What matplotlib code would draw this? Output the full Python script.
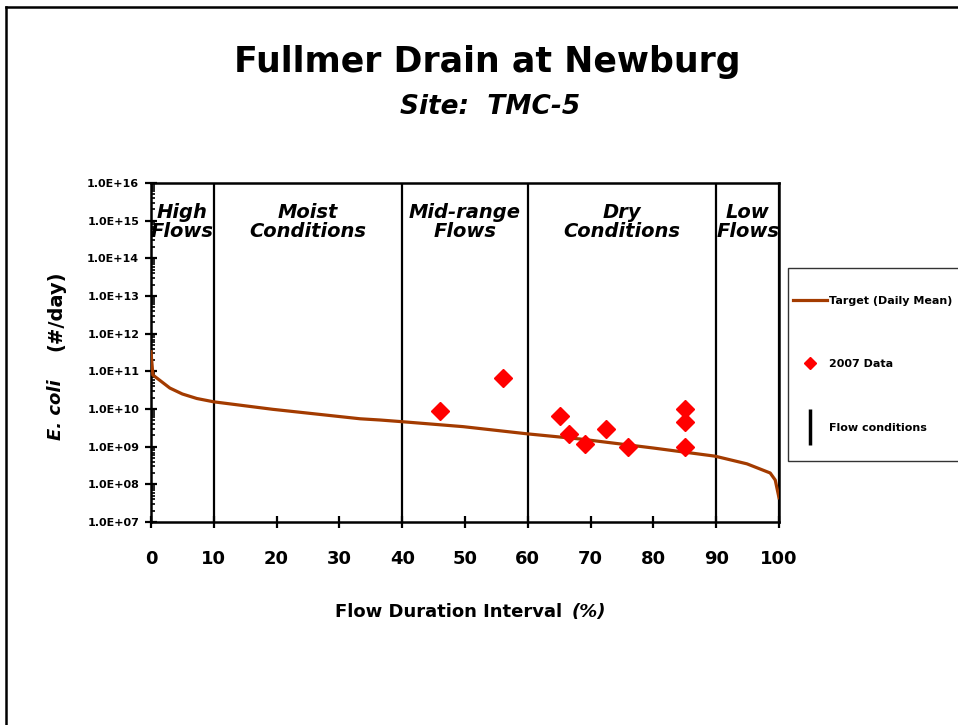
import numpy as np
import matplotlib
matplotlib.use("Agg")
import matplotlib.pyplot as plt
from matplotlib.lines import Line2D
from matplotlib.patches import Rectangle
from matplotlib.ticker import FuncFormatter, LogLocator

# Data
#------------------------------
target_x = [0, 0.3, 1, 3, 5, 7.3, 10, 19.4, 33.3, 36.5, 40, 49.7, 59.8,
            68.3, 80, 89.8, 94.9, 98.6, 99.4, 100]
target_y = [3.3e11, 8e10, 6.5e10, 3.6e10, 2.5e10, 1.9e10, 1.55e10, 9.8e9,
            5.5e9, 5.1e9, 4.6e9, 3.4e9, 2.2e9, 1.6e9, 9.2e8, 5.6e8, 3.5e8,
            2e8, 1.3e8, 4.4e7]

data_x = [46.0, 56.0, 65.2, 66.5, 69.1, 72.5, 76.0, 85.1, 85.1, 85.1]
data_y = [8.9e9, 6.5e10, 6.5e9, 2.2e9, 1.15e9, 3.0e9, 9.6e8, 1.02e10, 4.5e9, 1.0e9]

flow_breaks = [10, 40, 60, 90, 100]
zone_centers = [5, 25, 50, 75, 95]
zone_labels = ["High\nFlows", "Moist\nConditions", "Mid-range\nFlows",
               "Dry\nConditions", "Low\nFlows"]
#------------------------------

W, H = 958, 725
fig = plt.figure(figsize=(W / 100, H / 100), dpi=100)
ax = fig.add_axes([151 / W, 1 - 522 / H, 628 / W, 339 / H])

ax.plot(target_x, target_y, color="#A33B00", lw=2.3, zorder=3)
ax.plot(data_x, data_y, linestyle="None", marker="D", color="red",
        markersize=9.5, zorder=4)
for b in flow_breaks:
    ax.axvline(b, color="black", lw=1.6, zorder=2)

ax.set_yscale("log")
ax.set_xlim(0, 100)
ax.set_ylim(1e7, 1e16)
ax.set_xticks(range(0, 101, 10))
ax.yaxis.set_major_locator(LogLocator(base=10, numticks=12))
ax.yaxis.set_minor_locator(LogLocator(base=10, subs=np.arange(2, 10), numticks=12))
ax.yaxis.set_major_formatter(FuncFormatter(lambda v, p: "1.0E+%02d" % round(np.log10(v))))

for s in ax.spines.values():
    s.set_linewidth(1.8)
ax.tick_params(axis="x", which="major", direction="inout", length=9, width=1.6,
               labelsize=13, pad=16)
ax.tick_params(axis="y", which="major", direction="inout", length=9, width=1.6,
               labelsize=8, pad=4)
ax.tick_params(axis="y", which="minor", direction="in", length=3, width=1.2)
for lab in ax.get_xticklabels() + ax.get_yticklabels():
    lab.set_fontweight("bold")

for xc, lab in zip(zone_centers, zone_labels):
    ax.text(xc, 0.885, lab, transform=ax.get_xaxis_transform(), ha="center",
            va="center", fontsize=14, fontweight="bold", style="italic",
            linespacing=1.05)

# titles
fig.text(487 / W, 1 - 62 / H, "Fullmer Drain at Newburg", ha="center", va="center",
         fontsize=25, fontweight="bold")
fig.text(490 / W, 1 - 107 / H, "Site:  TMC-5", ha="center", va="center",
         fontsize=19, fontweight="bold", style="italic")

# axis labels
fig.text(568 / W, 1 - 612 / H, "Flow Duration Interval ", ha="right", va="center",
         fontsize=13, fontweight="bold")
fig.text(572 / W, 1 - 612 / H, "(%)", ha="left", va="center",
         fontsize=13, fontweight="bold", style="italic")
fig.text(56 / W, 1 - 410 / H, "E. coli", ha="center", va="center", rotation=90,
         fontsize=13, fontweight="bold", style="italic")
fig.text(56 / W, 1 - 311 / H, "(#/day)", ha="center", va="center", rotation=90,
         fontsize=14, fontweight="bold")

# legend: box drawn by hand, it runs past the right edge
fig.add_artist(Rectangle((788 / W, 1 - 461 / H), 180 / W, 193 / H, transform=fig.transFigure,
                         facecolor="white", edgecolor="#333333", lw=1.0, zorder=5))
handles = [Line2D([], [], color="#A33B00", lw=2.3),
           Line2D([], [], color="red", marker="D", linestyle="None", markersize=6),
           Line2D([], [], color="black", marker="|", linestyle="None",
                  markersize=26, markeredgewidth=2.5)]
leg = fig.legend(handles, ["Target (Daily Mean)", "2007 Data", "Flow conditions"],
                 loc="upper left", bbox_to_anchor=(793 / W, 1 - 296 / H),
                 bbox_transform=fig.transFigure, frameon=False, borderpad=0,
                 labelspacing=4.8, handlelength=3.1, handletextpad=0.15,
                 borderaxespad=0, prop={"weight": "bold", "size": 8})
leg.set_zorder(6)

# figure border (left and top)
fig.add_artist(Line2D([6 / W, 6 / W], [0, 1 - 7 / H], color="black", lw=1.8,
                      transform=fig.transFigure))
fig.add_artist(Line2D([6 / W, 1], [1 - 7 / H, 1 - 7 / H], color="black", lw=1.8,
                      transform=fig.transFigure))

fig.savefig("out.png", dpi=100)
